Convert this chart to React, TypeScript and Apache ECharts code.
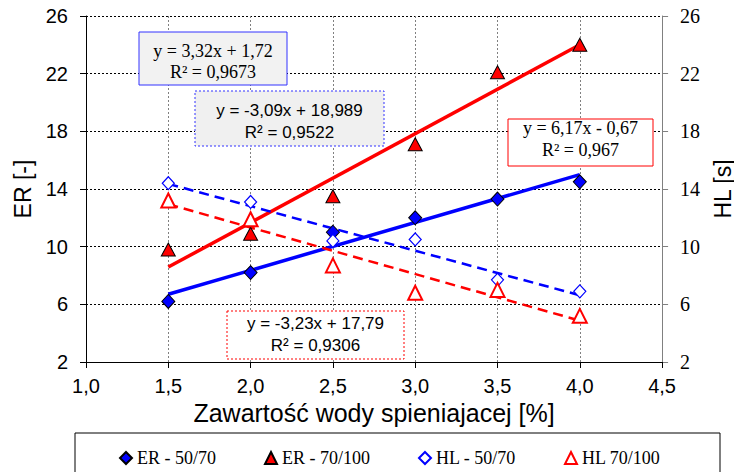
import React, { useEffect, useRef } from "react";
import * as echarts from "echarts";

const xValues = [1.5, 2.0, 2.5, 3.0, 3.5, 4.0];
const er5070 = [6.2, 8.2, 11.0, 12.0, 13.3, 14.5];
const er70100 = [9.8, 10.9, 13.5, 17.1, 22.1, 24.0];
const hl5070 = [14.4, 13.1, 10.4, 10.5, 7.7, 6.9];
const hl70100 = [13.2, 11.9, 8.7, 6.8, 7.0, 5.2];

// trend line coefficients as printed on the chart [slope, intercept]
const trendEr5070 = [3.32, 1.72];
const trendEr70100 = [6.17, -0.67];
const trendHl5070 = [-3.09, 18.989];
const trendHl70100 = [-3.23, 17.79];
const trendRange = [1.5, 4.0];

const eqLabels = [
  ["y = 3,32x + 1,72", "R² = 0,9673"],
  ["y = -3,09x + 18,989", "R² = 0,9522"],
  ["y = 6,17x - 0,67", "R² = 0,967"],
  ["y = -3,23x + 17,79", "R² = 0,9306"],
];

const legendNames = ["ER - 50/70", "ER - 70/100", "HL - 50/70", "HL 70/100"];
const xAxisTitle = "Zawartość wody spieniajacej [%]";
const yLeftTitle = "ER [-]";
const yRightTitle = "HL [s]";

const pairs = (ys: number[]) => xValues.map((x, i) => [x, ys[i]]);
const trend = (c: number[]) => trendRange.map((x) => [x, c[0] * x + c[1]]);

const SANS = "Liberation Sans";
const SERIF = "Liberation Serif";

function eqBox(
  x: number,
  y: number,
  w: number,
  h: number,
  lines: string[],
  stroke: string,
  dashed: boolean,
  fill: string,
  font: string,
  size: number,
  l1: number,
  l2: number
) {
  return {
    type: "group",
    children: [
      {
        type: "rect",
        shape: { x, y, width: w, height: h },
        style: {
          fill,
          stroke,
          lineWidth: 1,
          lineDash: dashed ? [2, 2] : null,
        },
        z: 10,
      },
      {
        type: "text",
        x: x + w / 2,
        y: l1,
        style: {
          text: lines[0],
          fontFamily: font,
          fontSize: size,
          fill: "#000",
          textAlign: "center",
          textVerticalAlign: "middle",
        },
        z: 11,
      },
      {
        type: "text",
        x: x + w / 2,
        y: l2,
        style: {
          text: lines[1],
          fontFamily: font,
          fontSize: size,
          fill: "#000",
          textAlign: "center",
          textVerticalAlign: "middle",
        },
        z: 11,
      },
    ],
  };
}

export default function App() {
  const ref = useRef<HTMLDivElement>(null);
  useEffect(() => {
    if (!ref.current) return;
    const chart = echarts.init(ref.current, undefined, { renderer: "svg" });
    const fmt = (v: number) => v.toFixed(1).replace(".", ",");
    chart.setOption({
      animation: false,
      backgroundColor: "#fff",
      grid: { left: 86, right: 78, top: 16, bottom: 110, containLabel: false },
      xAxis: {
        type: "value",
        min: 1,
        max: 4.5,
        interval: 0.5,
        name: xAxisTitle,
        nameLocation: "middle",
        nameGap: 34,
        nameTextStyle: { fontFamily: SANS, fontSize: 25, color: "#000" },
        axisLine: { lineStyle: { color: "#000", width: 1 } },
        axisTick: { show: true, inside: false, length: 6, lineStyle: { color: "#000" } },
        axisLabel: {
          formatter: fmt,
          fontFamily: SANS,
          fontSize: 20,
          color: "#000",
          margin: 14,
        },
        splitLine: {
          show: true,
          lineStyle: { color: "#808080", type: [2, 2], width: 1 },
        },
      },
      yAxis: [
        {
          type: "value",
          min: 2,
          max: 26,
          interval: 4,
          position: "left",
          name: yLeftTitle,
          nameLocation: "middle",
          nameGap: 45,
          nameRotate: 90,
          nameTextStyle: { fontFamily: SANS, fontSize: 23, color: "#000" },
          axisLine: { show: true, lineStyle: { color: "#000", width: 1 } },
          axisTick: { show: true, inside: false, length: 6, lineStyle: { color: "#000" } },
          axisLabel: { fontFamily: SANS, fontSize: 20, color: "#000", margin: 18 },
          splitLine: {
            show: true,
            lineStyle: { color: "#000", type: [2, 2], width: 1 },
          },
        },
        {
          type: "value",
          min: 2,
          max: 26,
          interval: 4,
          position: "right",
          name: yRightTitle,
          nameLocation: "middle",
          nameGap: 47,
          nameRotate: 90,
          nameTextStyle: { fontFamily: SANS, fontSize: 23, color: "#000" },
          axisLine: { show: true, lineStyle: { color: "#808080", width: 1 } },
          axisTick: { show: true, inside: false, length: 6, lineStyle: { color: "#808080" } },
          axisLabel: { fontFamily: SERIF, fontSize: 20, color: "#000", margin: 18 },
          splitLine: { show: false },
        },
      ],
      legend: {
        data: [
          { name: legendNames[0], icon: "diamond" },
          { name: legendNames[1], icon: "triangle" },
          { name: legendNames[2], icon: "diamond" },
          { name: legendNames[3], icon: "triangle" },
        ],
        left: 114,
        top: 444,
        itemGap: 48,
        itemWidth: 12,
        itemHeight: 12,
        textStyle: { fontFamily: SERIF, fontSize: 18, color: "#000" },
      },
      graphic: [
        {
          type: "rect",
          shape: { x: 75, y: 433, width: 645, height: 45 },
          style: { fill: "none", stroke: "#000", lineWidth: 1 },
        },
        eqBox(139, 32, 148, 53, eqLabels[0], "#3333ff", false, "#f2f2f2", SERIF, 18, 51, 72),
        eqBox(195, 91, 189, 55, eqLabels[1], "#3333ff", true, "#f0f0f0", SANS, 17, 110, 132),
        eqBox(508, 119, 145, 47, eqLabels[2], "#ff0000", false, "#ffffff", SERIF, 18, 128, 150),
        eqBox(227, 311, 177, 48, eqLabels[3], "#ff0000", true, "#ffffff", SANS, 17, 323, 345),
      ],
      series: [
        {
          name: "trend ER 50/70",
          type: "line",
          data: trend(trendEr5070),
          symbol: "none",
          lineStyle: { color: "#0000ff", width: 3.5 },
          z: 1,
        },
        {
          name: "trend ER 70/100",
          type: "line",
          data: trend(trendEr70100),
          symbol: "none",
          lineStyle: { color: "#ff0000", width: 3.5 },
          z: 1,
        },
        {
          name: "trend HL 50/70",
          type: "line",
          yAxisIndex: 1,
          data: trend(trendHl5070),
          symbol: "none",
          lineStyle: { color: "#0000ff", width: 2.5, type: [10, 6] },
          z: 1,
        },
        {
          name: "trend HL 70/100",
          type: "line",
          yAxisIndex: 1,
          data: trend(trendHl70100),
          symbol: "none",
          lineStyle: { color: "#ff0000", width: 2.5, type: [10, 6] },
          z: 1,
        },
        {
          name: legendNames[0],
          type: "scatter",
          data: pairs(er5070),
          symbol: "diamond",
          symbolSize: [13, 14],
          itemStyle: { color: "#0000ff", borderColor: "#000", borderWidth: 1, opacity: 1 },
          z: 5,
        },
        {
          name: legendNames[1],
          type: "scatter",
          data: pairs(er70100),
          symbol: "triangle",
          symbolSize: [14, 13],
          itemStyle: { color: "#ff0000", borderColor: "#000", borderWidth: 1, opacity: 1 },
          z: 5,
        },
        {
          name: legendNames[2],
          type: "scatter",
          yAxisIndex: 1,
          data: pairs(hl5070),
          symbol: "diamond",
          symbolSize: [12, 13],
          itemStyle: { color: "#ffffff", borderColor: "#0000ff", borderWidth: 1.2, opacity: 1 },
          z: 5,
        },
        {
          name: legendNames[3],
          type: "scatter",
          yAxisIndex: 1,
          data: pairs(hl70100),
          symbol: "triangle",
          symbolSize: [14, 14],
          itemStyle: { color: "#ffffff", borderColor: "#ff0000", borderWidth: 2, opacity: 1 },
          z: 5,
        },
      ],
    });
    return () => chart.dispose();
  }, []);
  return <div ref={ref} style={{ width: 742, height: 472, marginLeft: -8, marginTop: -8 }} />;
}
